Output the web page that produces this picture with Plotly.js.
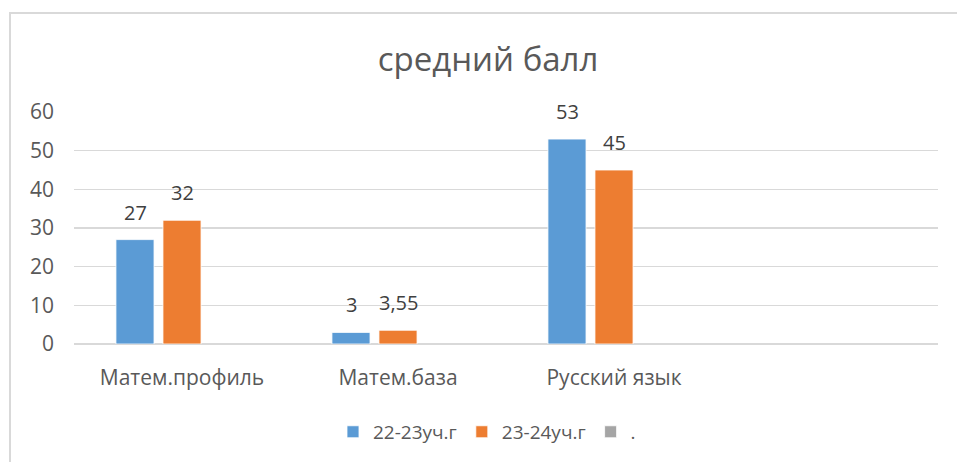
<!DOCTYPE html>
<html>
<head>
<meta charset="utf-8">
<script src="https://cdn.plot.ly/plotly-3.0.1.min.js"></script>
<style>
html,body{margin:0;padding:0;background:#fff;}
#wrap{position:relative;width:957px;height:462px;overflow:hidden;}
#frame{position:absolute;left:9px;top:12px;width:1000px;height:500px;border:2px solid #D9D9D9;box-sizing:border-box;}
#chart{position:absolute;left:0;top:0;width:957px;height:462px;}
</style>
</head>
<body>
<div id="wrap"><div id="frame"></div><div id="chart"></div></div>
<script>
const categories = ["Матем.профиль", "Матем.база", "Русский язык", " "];
const series1Name = "22-23уч.г";
const series1 = [27, 3, 53, null];
const series2Name = "23-24уч.г";
const series2 = [32, 3.55, 45, null];
const series3Name = ".";
const series3 = [null, null, null, null];
const yTicks = [0, 10, 20, 30, 40, 50, 60];

const fmt = v => String(v).replace(".", ",");
const font = "'Open Sans', 'Noto Sans', sans-serif";

function barTrace(name, vals, color) {
  return {
    type: "bar", name: name, x: categories, y: vals,
    marker: {color: color, line: {color: "#ffffff", width: 0.8}},
    hoverinfo: "none"
  };
}

const data = [
  barTrace(series1Name, series1, "#5B9BD5"),
  barTrace(series2Name, series2, "#ED7D31"),
  barTrace(series3Name, series3, "#A5A5A5")
];

// data labels above bars, placed through the axes
const annotations = [];
[series1, series2].forEach((vals, si) => {
  vals.forEach((v, ci) => {
    if (v === null) return;
    annotations.push({
      x: categories[ci], y: v, xref: "x", yref: "y",
      text: fmt(v), showarrow: false, xanchor: "center", yanchor: "bottom",
      xshift: (si - 1) * 47, yshift: 12,
      font: {family: font, size: 20, color: "#404040"}
    });
  });
});

const layout = {
  width: 957, height: 462,
  paper_bgcolor: "rgba(0,0,0,0)", plot_bgcolor: "rgba(0,0,0,0)",
  margin: {l: 74, r: 19, t: 112, b: 117},
  title: {text: "средний балл", font: {family: font, size: 33, color: "#595959"},
          x: 0.51, xanchor: "center", y: 0.872, yanchor: "middle"},
  barmode: "group", bargap: 0.347, bargroupgap: 0.19,
  xaxis: {type: "category", range: [-0.5, 3.5], showgrid: false, zeroline: false,
          showline: false, ticks: "", ticklabelstandoff: 19,
          tickfont: {family: font, size: 21, color: "#595959"}, fixedrange: true},
  yaxis: {range: [0, 60], tickvals: yTicks, ticktext: yTicks.map(String),
          showgrid: true, gridcolor: "#D9D9D9", gridwidth: 1.5,
          zeroline: true, zerolinecolor: "#D9D9D9", zerolinewidth: 1.5,
          showline: false, ticks: "", ticklabelstandoff: 19,
          tickfont: {family: font, size: 21, color: "#595959"}, fixedrange: true},
  annotations: annotations,
  showlegend: true,
  legend: {orientation: "h", x: 0.478, xanchor: "center", y: -0.373, yanchor: "middle",
           font: {family: font, size: 19, color: "#595959"}, itemwidth: 30,
           traceorder: "normal"},
  separators: ", "
};

Plotly.newPlot("chart", data, layout, {displayModeBar: false, staticPlot: true});
</script>
</body>
</html>
